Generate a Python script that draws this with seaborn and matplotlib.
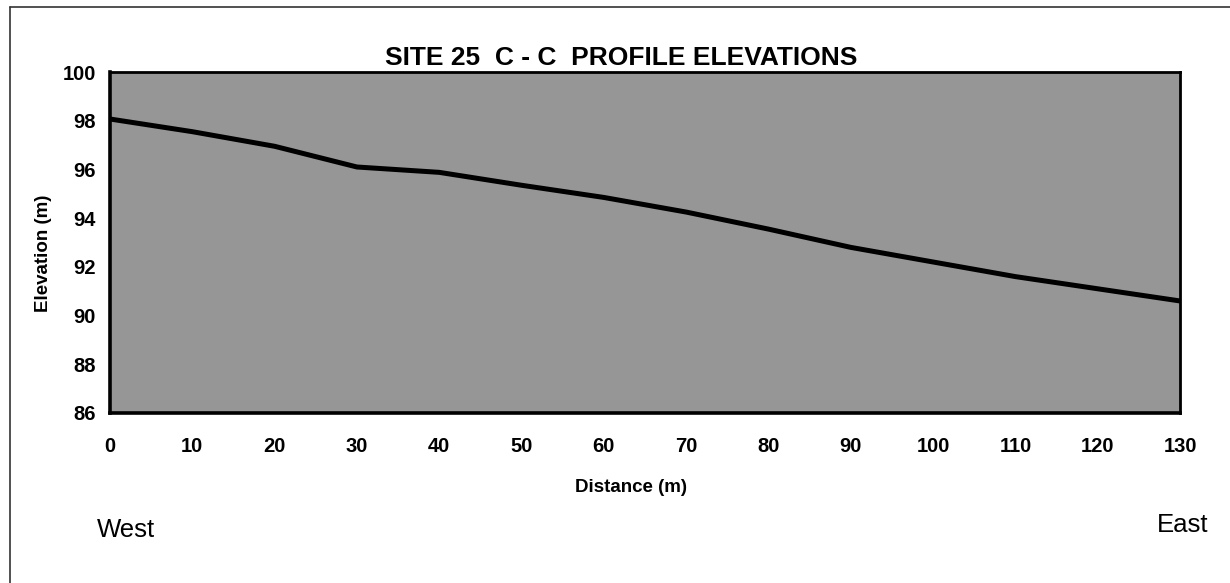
import pandas as pd
import matplotlib.pyplot as plt
import seaborn as sns
from matplotlib.lines import Line2D

# profile readings (distance in m, elevation in m)
distance = [0, 10, 20, 30, 40, 50, 60, 70, 80, 90, 100, 110, 120, 130]
elevation = [98.07, 97.55, 96.95, 96.1, 95.88, 95.35, 94.85, 94.25,
             93.55, 92.8, 92.2, 91.6, 91.1, 90.6]
x_ticks = list(range(0, 131, 10))
y_ticks = list(range(86, 101, 2))

df = pd.DataFrame({"distance": distance, "elevation": elevation})

sns.set_style("white")
plt.rcParams["font.family"] = ["Liberation Sans", "DejaVu Sans"]
plt.rcParams["text.color"] = "black"
plt.rcParams["xtick.color"] = "black"
plt.rcParams["ytick.color"] = "black"

fig = plt.figure(figsize=(12.3, 5.83), dpi=100)
ax = fig.add_axes([110 / 1230, 1 - 413 / 583, 1070 / 1230, 341 / 583])
ax.set_facecolor("#969696")

sns.lineplot(data=df, x="distance", y="elevation", ax=ax, color="black",
             linewidth=3.6)

ax.set_xlim(0, 130)
ax.set_ylim(86, 100)
ax.set_xticks(x_ticks)
ax.set_yticks(y_ticks)
ax.set_xticklabels([str(v) for v in x_ticks], fontsize=14.5, fontweight="bold")
ax.set_yticklabels([str(v) for v in y_ticks], fontsize=14.5, fontweight="bold")
ax.tick_params(axis="x", direction="out", length=5, width=1, pad=12)
ax.tick_params(axis="y", direction="out", length=5, width=1, pad=5)
ax.set_xlabel("")
ax.set_ylabel("")

for side in ["left", "bottom"]:
    ax.spines[side].set_linewidth(2.6)
for side in ["top", "right"]:
    ax.spines[side].set_linewidth(2.0)
for sp in ax.spines.values():
    sp.set_color("black")
    sp.set_visible(True)

fig.text(621 / 1230, 1 - 65 / 583, "SITE 25  C - C  PROFILE ELEVATIONS",
         ha="center", va="baseline", fontsize=19, fontweight="bold")
fig.text(631 / 1230, 1 - 487 / 583, "Distance (m)", ha="center", va="center",
         fontsize=13.5, fontweight="bold")
fig.text(43 / 1230, 1 - 253 / 583, "Elevation (m)", ha="center", va="center",
         rotation=90, fontsize=13.5, fontweight="bold")
fig.text(97 / 1230, 1 - 530 / 583, "West", ha="left", va="center", fontsize=18.5)
fig.text(1208 / 1230, 1 - 525 / 583, "East", ha="right", va="center", fontsize=18.5)

# outer chart border
fig.add_artist(Line2D([10 / 1230, 1.0], [1 - 7 / 583, 1 - 7 / 583],
                      transform=fig.transFigure, color="#333333", linewidth=1.2))
fig.add_artist(Line2D([10 / 1230, 10 / 1230], [0.0, 1 - 7 / 583],
                      transform=fig.transFigure, color="#333333", linewidth=1.2))

plt.savefig("out.png", dpi=100)
